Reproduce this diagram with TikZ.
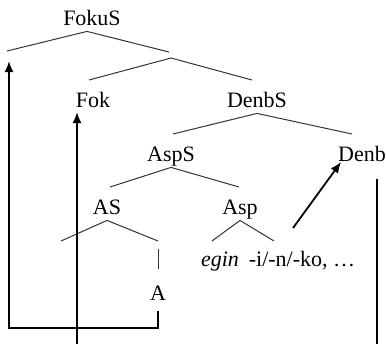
\documentclass[tikz,border=0pt]{standalone}
\usepackage{fontspec}
\setmainfont{Liberation Serif}
\usetikzlibrary{positioning,arrows.meta}

\begin{document}
\begin{tikzpicture}[x=0.5pt,y=-0.5pt,
cat/.style ={anchor=base, inner sep=3pt, text depth=0pt,
font=\fontsize{11}{13}\selectfont},
branch/.style ={draw=black!80, line width=0.5pt},
move/.style ={-{Latex[length=5.5pt,width=4.5pt]}, line width=0.9pt}]
\useasboundingbox (0,0) rectangle (386,344);
% labels
\node[cat] (fokus) at (92,25) {FokuS};
\node[cat] (fok) at (93,107) {Fok};
\node[cat] (denbs) at (257,107) {DenbS};
\node[cat] (asps) at (171,161) {AspS};
\node[cat] (denb) at (362,161) {Denb};
\node[cat] (as) at (107,214) {AS};
\node[cat] (asp) at (240,214) {Asp};
\node[cat] (egin) at (220,266) {\textit{egin}};
\node[cat] (suff) at (302,266) {-i/-n/-ko, …};
\node[cat] (a) at (158,300) {A};
% branch ends
\coordinate (fokusL) at (7,51);
\coordinate (fokusR) at (169,52);
\coordinate (barTop) at (171,58);
\coordinate (barL) at (89,80);
\coordinate (barR) at (252,80);
\coordinate (denbsL) at (173,134);
\coordinate (denbsR) at (352,134);
\coordinate (aspsL) at (110,187);
\coordinate (aspsR) at (239,187);
\coordinate (asL) at (61,241);
\coordinate (asR) at (158,241);
\coordinate (aspL) at (212,241);
\coordinate (aspR) at (274,241);
% movement ends
\coordinate (specFokus) at (9,61);
\coordinate (bend) at (9,328);
\coordinate (fokTrace) at (77,344);
\coordinate (specFok) at (77,112);
\coordinate (suffTop) at (293,228);
\coordinate (denbFoot) at (341,162);
\coordinate (denbTop) at (377,179);
\coordinate (denbBot) at (377,344);
% tree
\draw[branch] (fokusL) -- ([xshift=-2.5pt]fokus.south) -- (fokusR);
\draw[branch] (barL) -- (barTop) -- (barR);
\draw[branch] (denbsL) -- (denbs.south) -- (denbsR);
\draw[branch] (aspsL) -- (asps.south) -- (aspsR);
\draw[branch] (asL) -- (as.south) -- (asR);
\draw[branch] (aspL) -- (asp.south) -- (aspR);
\draw[branch, shorten <=4pt, shorten >=5.2pt] (asR) -- (a);
% movement
\draw[move, shorten <=2.5pt] (a) -- (a |- bend) -- (bend) -- (specFokus);
\draw[move] (fokTrace) -- (specFok);
\draw[move] (suffTop) -- (denbFoot);
\draw[line width=0.9pt] (denbTop) -- (denbBot);
\end{tikzpicture}
\end{document}
